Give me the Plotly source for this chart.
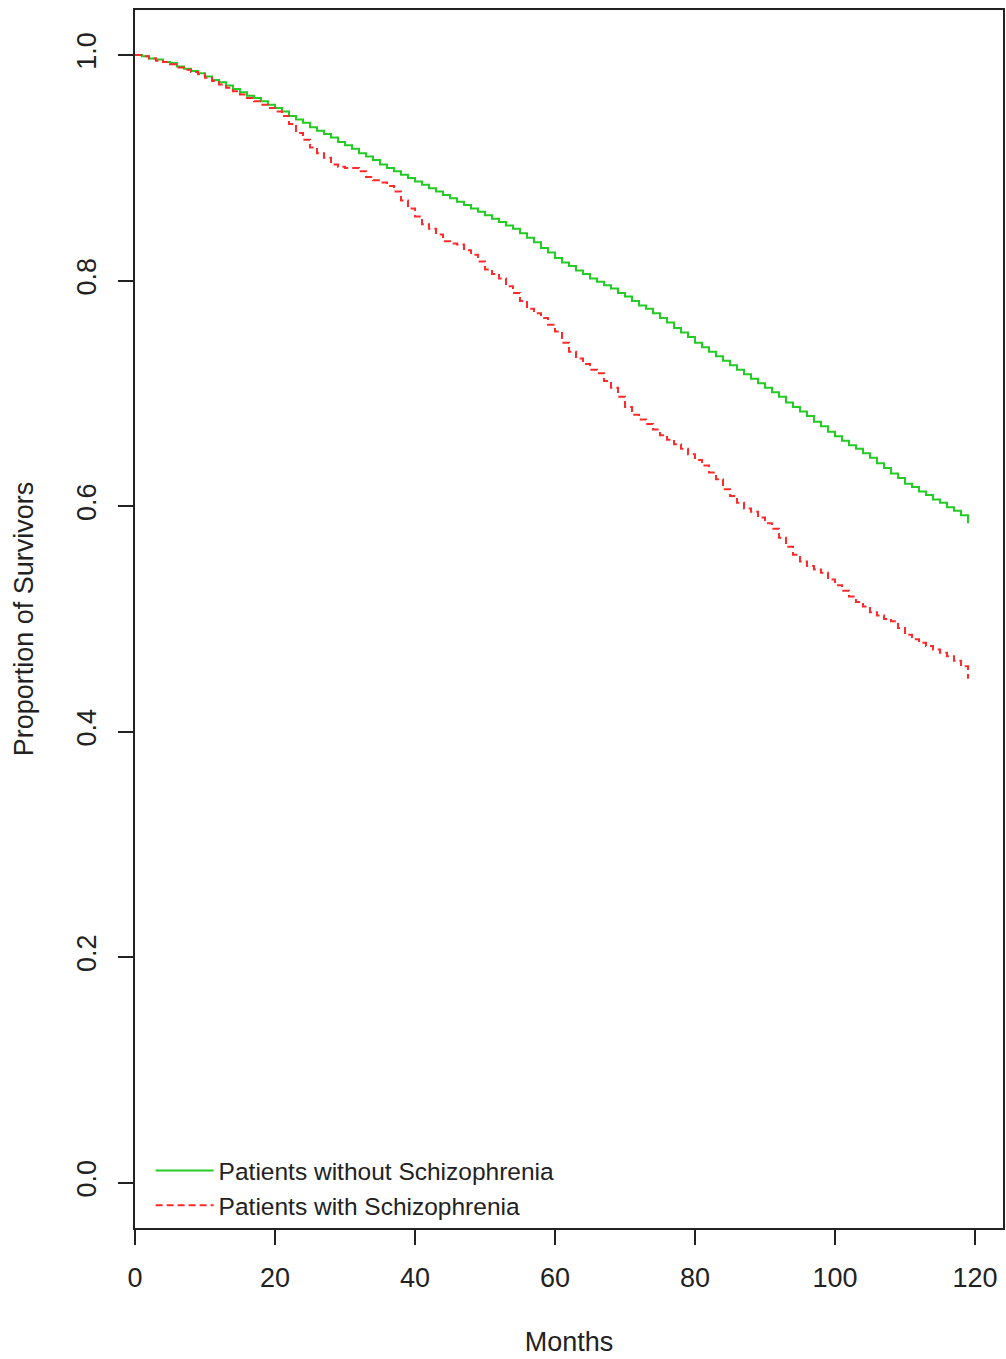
import plotly.graph_objects as go

months = list(range(0, 120))

surv_without = [
    1.000, 0.999, 0.997, 0.996, 0.994, 0.993,
    0.990, 0.988, 0.986, 0.984, 0.981,
    0.978, 0.976, 0.973, 0.970, 0.967,
    0.964, 0.962, 0.959, 0.956, 0.953,
    0.950, 0.946, 0.943, 0.940, 0.936,
    0.933, 0.930, 0.927, 0.923, 0.920,
    0.917, 0.913, 0.910, 0.907, 0.903,
    0.900, 0.897, 0.894, 0.891, 0.888,
    0.885, 0.882, 0.879, 0.876, 0.873,
    0.870, 0.867, 0.864, 0.861, 0.858,
    0.855, 0.852, 0.849, 0.846, 0.842,
    0.838, 0.834, 0.829, 0.825, 0.820,
    0.816, 0.813, 0.809, 0.806, 0.802,
    0.799, 0.796, 0.793, 0.789, 0.786,
    0.782, 0.778, 0.775, 0.771, 0.767,
    0.763, 0.758, 0.754, 0.750, 0.745,
    0.741, 0.737, 0.733, 0.729, 0.725,
    0.721, 0.717, 0.713, 0.709, 0.705,
    0.701, 0.697, 0.692, 0.688, 0.684,
    0.680, 0.675, 0.671, 0.666, 0.662,
    0.658, 0.654, 0.651, 0.647, 0.643,
    0.638, 0.634, 0.629, 0.625, 0.620,
    0.617, 0.613, 0.610, 0.606, 0.603,
    0.599, 0.596, 0.592, 0.585,
]

surv_with = [
    1.000, 0.999, 0.997, 0.995, 0.994, 0.992,
    0.989, 0.987, 0.985, 0.983, 0.980,
    0.977, 0.974, 0.971, 0.968, 0.965,
    0.962, 0.959, 0.956, 0.953, 0.950,
    0.946, 0.939, 0.931, 0.925, 0.918,
    0.913, 0.909, 0.903, 0.901, 0.900,
    0.900, 0.897, 0.892, 0.889, 0.887,
    0.884, 0.879, 0.871, 0.864, 0.857,
    0.850, 0.846, 0.841, 0.835, 0.833,
    0.832, 0.827, 0.823, 0.817, 0.810,
    0.806, 0.802, 0.795, 0.789, 0.782,
    0.775, 0.771, 0.767, 0.761, 0.755,
    0.745, 0.737, 0.731, 0.726, 0.721,
    0.718, 0.711, 0.705, 0.697, 0.688,
    0.681, 0.677, 0.673, 0.668, 0.663,
    0.659, 0.655, 0.651, 0.646, 0.641,
    0.636, 0.630, 0.624, 0.615, 0.609,
    0.603, 0.598, 0.595, 0.590, 0.585,
    0.580, 0.572, 0.564, 0.557, 0.551,
    0.547, 0.544, 0.541, 0.535, 0.530,
    0.525, 0.520, 0.515, 0.511, 0.506,
    0.503, 0.500, 0.498, 0.492, 0.486,
    0.482, 0.479, 0.476, 0.473, 0.470,
    0.467, 0.463, 0.458, 0.447,
]

x_ticks = [0, 20, 40, 60, 80, 100, 120]
y_ticks = [0.0, 0.2, 0.4, 0.6, 0.8, 1.0]
y_tick_labels = ["0.0", "0.2", "0.4", "0.6", "0.8", "1.0"]

FONT = "Liberation Sans, Arial, sans-serif"
INK = "#222222"

fig = go.Figure()
fig.add_trace(go.Scatter(
    x=months, y=surv_without, mode="lines", line_shape="hv",
    name="Patients without Schizophrenia",
    line=dict(color="#22cc22", width=2),
))
fig.add_trace(go.Scatter(
    x=months, y=surv_with, mode="lines", line_shape="hv",
    name="Patients with Schizophrenia",
    line=dict(color="#ff2a2a", width=2, dash="7px,4px"),
))

fig.update_layout(
    width=1006, height=1359,
    margin=dict(l=135, r=1, t=10, b=131),
    paper_bgcolor="white", plot_bgcolor="white",
    font=dict(family=FONT, color=INK),
    showlegend=True,
    legend=dict(
        x=0.018, y=0.0, xanchor="left", yanchor="bottom",
        bgcolor="rgba(0,0,0,0)", font=dict(size=24.5, family=FONT, color=INK),
        tracegroupgap=0, itemwidth=58,
    ),
    xaxis=dict(
        range=[0, 124], tickvals=x_ticks, ticks="outside", ticklen=15,
        tickwidth=1.5, tickcolor=INK, showgrid=False, zeroline=False,
        showline=True, linecolor=INK, linewidth=1.5, mirror=True,
        tickfont=dict(size=27, family=FONT, color=INK),
        ticklabelstandoff=10,
        title=dict(text="Months", font=dict(size=27, family=FONT, color=INK), standoff=40),
    ),
    yaxis=dict(
        range=[-0.04, 1.04], tickvals=y_ticks, ticktext=y_tick_labels,
        ticks="outside", ticklen=15, tickwidth=1.5, tickcolor=INK,
        showgrid=False, zeroline=False,
        showline=True, linecolor=INK, linewidth=1.5, mirror=True,
        tickangle=-90,
        tickfont=dict(size=27, family=FONT, color=INK),
        ticklabelstandoff=11,
        title=dict(text="Proportion of Survivors", font=dict(size=27, family=FONT, color=INK), standoff=31),
    ),
)

fig.write_html(
    "out.html",
    config={"displayModeBar": False},
    post_script="document.body.style.margin='0px';",
)
